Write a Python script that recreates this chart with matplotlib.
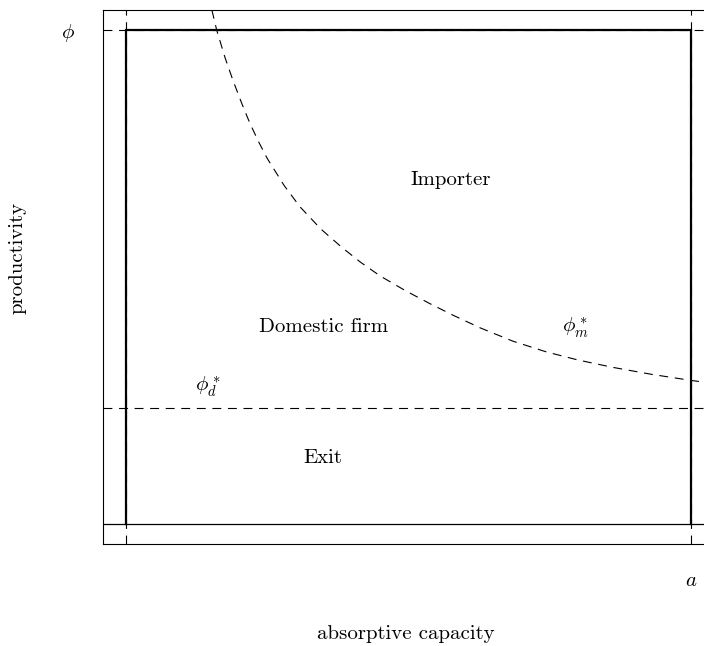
import matplotlib
matplotlib.use("Agg")
import matplotlib.pyplot as plt

plt.rcParams['font.family'] = 'serif'
plt.rcParams['font.serif'] = ['cmr10', 'DejaVu Serif']
plt.rcParams['mathtext.fontset'] = 'cm'
plt.rcParams['axes.unicode_minus'] = False

# region bounds
a_max = 1.0
phi_max = 1.0
phi_d = 0.235

# import cutoff curve phi_m*(a)
curve_x = [0.152, 0.1605, 0.175, 0.189, 0.205, 0.219, 0.235, 0.250, 0.280,
           0.308, 0.345, 0.382, 0.415, 0.450, 0.495, 0.538, 0.580, 0.627,
           0.685, 0.745, 0.800, 0.862, 0.930, 0.998, 1.030]
curve_y = [1.0405, 1.0, 0.945, 0.899, 0.851, 0.812, 0.773, 0.740, 0.685,
           0.642, 0.597, 0.560, 0.530, 0.502, 0.472, 0.446, 0.422, 0.397,
           0.370, 0.348, 0.332, 0.317, 0.303, 0.291, 0.286]

# region labels
labels = ['Importer', 'Domestic firm', 'Exit', r'$\phi_m^*$', r'$\phi_d^*$']
label_x = [0.575, 0.349, 0.349, 0.795, 0.145]
label_y = [0.696, 0.399, 0.134, 0.397, 0.277]

fig = plt.figure(figsize=(7.04, 6.46), dpi=100)
ax = fig.add_axes([103/704, 102/646, 605/704, 534/646])

ax.set_xlim(-23/565, 582/565)
ax.set_ylim(-20/494, 514/494)

dash = (0, (8, 6))
# dashed guide lines through the whole axes
ax.axvline(0, color='black', lw=0.8, ls=dash)
ax.axvline(a_max, color='black', lw=0.8, ls=dash)
ax.axhline(phi_max, color='black', lw=0.8, ls=dash)
ax.axhline(phi_d, color='black', lw=0.8, ls=dash)
ax.axhline(0, color='black', lw=0.9)

# thick box
ax.plot([0, 0, a_max, a_max], [0, phi_max, phi_max, 0], color='black', lw=1.6,
        solid_joinstyle='miter')

ax.plot(curve_x, curve_y, color='black', lw=0.8, ls=dash)

for s, x, y in zip(labels, label_x, label_y):
    ax.text(x, y, s, ha='center', va='center', fontsize=15)

ax.set_xticks([a_max])
ax.set_xticklabels([r'$a$'], fontsize=15)
ax.set_yticks([phi_max])
ax.set_yticklabels([r'$\phi$'], fontsize=15)
ax.tick_params(length=0, pad=20)

for sp in ax.spines.values():
    sp.set_linewidth(0.8)
ax.spines['right'].set_visible(False)

fig.text(406/704, 1 - 634/646, 'absorptive capacity', ha='center', va='center', fontsize=15)
fig.text(18/704, 1 - 258/646, 'productivity', ha='center', va='center',
         rotation=90, fontsize=15)

fig.savefig('out.png', dpi=100)
